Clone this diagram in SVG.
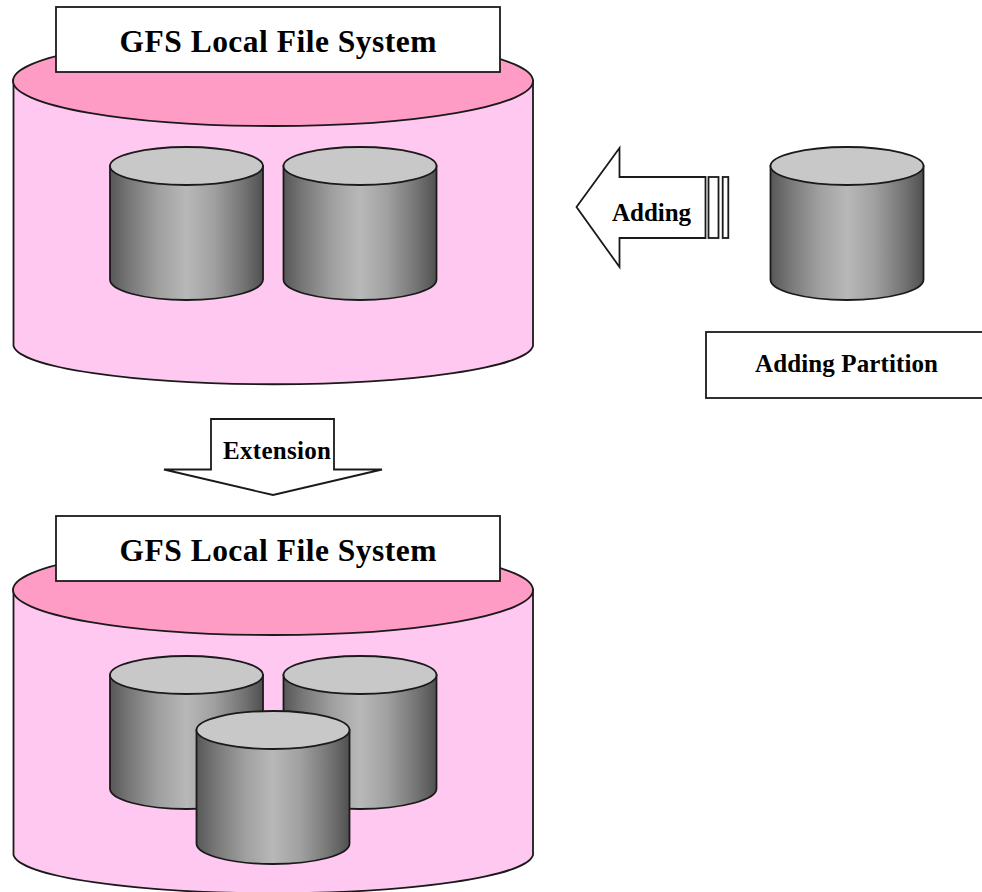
<svg xmlns="http://www.w3.org/2000/svg" width="982" height="892" viewBox="0 0 982 892">
<style>
.ln{stroke:#1a1a1a;stroke-width:1.8}
.box{fill:#fff;stroke:#1a1a1a;stroke-width:1.8}
.big{fill:#ffc8f0}
.bigtop{fill:#ff9cc5}
.cyl{fill:url(#metal)}
.cyltop{fill:#c8c8c8}
.t{font-family:"Liberation Serif","Times New Roman",serif;font-weight:700;fill:#000}
.t1{font-size:31.5px}
.t2{font-size:25px}
</style>
<defs>
<linearGradient id="metal" x1="0" x2="1" y1="0" y2="0">
<stop offset="0" stop-color="#575757"/>
<stop offset="0.12" stop-color="#767676"/>
<stop offset="0.32" stop-color="#a0a0a0"/>
<stop offset="0.5" stop-color="#b8b8b8"/>
<stop offset="0.68" stop-color="#a0a0a0"/>
<stop offset="0.88" stop-color="#727272"/>
<stop offset="1" stop-color="#505050"/>
</linearGradient>
<g id="small">
<path class="cyl ln" d="M-76.5 18.5V132A76.5 20.5 0 0 0 76.5 132V18.5Z"/>
<ellipse class="cyltop ln" cx="0" cy="18.5" rx="76.5" ry="19"/>
</g>
<g id="drum">
<path class="big ln" d="M13.5 81V346A260 40 0 0 0 533 346V81Z"/>
<ellipse class="bigtop ln" cx="273" cy="81" rx="260" ry="45"/>
</g>
</defs>
<rect width="982" height="892" fill="#fff"/>
<g id="fs-top">
<use href="#drum"/>
<rect class="box" x="56" y="7" width="444" height="65"/>
<text class="t t1" x="278" y="52" text-anchor="middle" textLength="317" lengthAdjust="spacing">GFS Local File System</text>
</g>
<g id="part-top-left"><use href="#small" x="186.5" y="147.5"/></g>
<g id="part-top-right"><use href="#small" x="360" y="147.5"/></g>
<g id="fs-bottom">
<use href="#drum" y="509"/>
<rect class="box" x="56" y="516" width="444" height="65"/>
<text class="t t1" x="278" y="561" text-anchor="middle" textLength="317" lengthAdjust="spacing">GFS Local File System</text>
</g>
<g id="part-bottom-left"><use href="#small" x="186.5" y="656.5"/></g>
<g id="part-bottom-right"><use href="#small" x="360" y="656.5"/></g>
<g id="part-bottom-front"><use href="#small" x="273" y="711.5"/></g>
<g id="part-adding"><use href="#small" x="847" y="147.5"/></g>
<g id="label-adding-partition">
<rect class="box" x="706" y="332" width="290" height="66"/>
<text class="t t2" x="755" y="372" textLength="183" lengthAdjust="spacing">Adding Partition</text>
</g>
<g id="connectors">
<g id="arrow-adding">
<path class="box" d="M576.5 207L619.5 148V177H705.5V238H619.5V267Z"/>
<rect class="box" x="708.5" y="177" width="10" height="61"/>
<rect class="box" x="722.7" y="177" width="5.6" height="61"/>
<text class="t t2" x="612" y="221" textLength="79" lengthAdjust="spacing">Adding</text>
</g>
<g id="arrow-extension">
<path class="box" d="M211 469.5V419H334V469.5H382L273 495L164 469.5Z"/>
<text class="t t2" x="223" y="459" textLength="108" lengthAdjust="spacing">Extension</text>
</g>
</g>
</svg>
